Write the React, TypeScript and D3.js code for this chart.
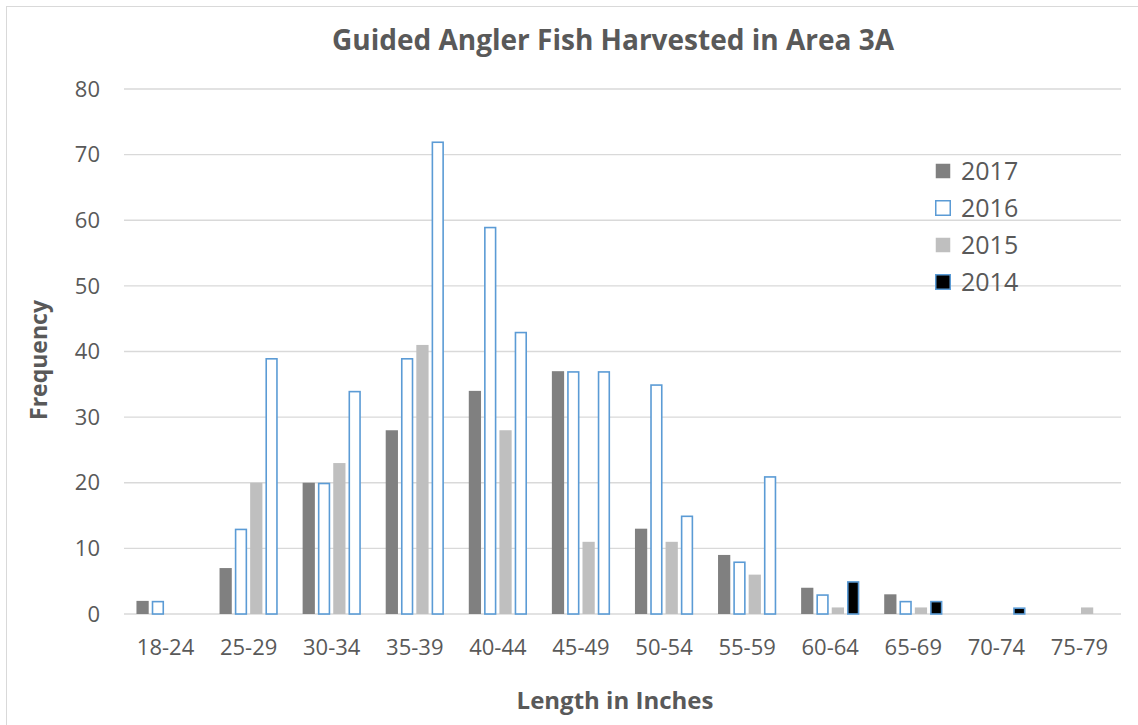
import * as d3 from "d3";

// Length classes on the x axis
const categories = [
  "18-24", "25-29", "30-34", "35-39", "40-44", "45-49",
  "50-54", "55-59", "60-64", "65-69", "70-74", "75-79",
];

// Frequency per length class, one array per year
const values2017 = [2, 7, 20, 28, 34, 37, 13, 9, 4, 3, 0, 0];
const values2016 = [2, 13, 20, 39, 59, 37, 35, 8, 3, 2, 0, 0];
const values2015 = [0, 20, 23, 41, 28, 11, 11, 6, 1, 1, 0, 1];
const values2014 = [0, 39, 34, 72, 43, 37, 15, 21, 5, 2, 1, 0];

const yTicks = [0, 10, 20, 30, 40, 50, 60, 70, 80];

type Series = {
  name: string;
  values: number[];
  fill: string;
  stroke: string;
};

const series: Series[] = [
  { name: "2017", values: values2017, fill: "#808080", stroke: "none" },
  { name: "2016", values: values2016, fill: "#ffffff", stroke: "#5b9bd5" },
  { name: "2015", values: values2015, fill: "#bfbfbf", stroke: "none" },
  { name: "2014", values: values2014, fill: "#ffffff", stroke: "#5b9bd5" },
];

// in the original, only these 2014 bars came out filled black
const blackFilled2014 = ["60-64", "65-69", "70-74"];

const width = 1138;
const height = 725;
const plot = { left: 124, right: 1121, top: 89, bottom: 614 };
const textColor = "#595959";
const gridColor = "#d9d9d9";
const font = "'Open Sans', sans-serif";

const App = () => {
  const x = d3
    .scaleBand<string>()
    .domain(categories)
    .range([plot.left, plot.right])
    .paddingInner(0.263)
    .paddingOuter(0.1315);

  const xInner = d3
    .scaleBand<string>()
    .domain(series.map((s) => s.name))
    .range([0, x.bandwidth()])
    .paddingInner(0.2)
    .paddingOuter(0.1);

  const y = d3.scaleLinear().domain([0, 80]).range([plot.bottom, plot.top]);

  const barFill = (s: Series, cat: string) =>
    s.name === "2014" && blackFilled2014.includes(cat) ? "#000000" : s.fill;

  return (
    <svg
      width={width}
      height={height}
      style={{ position: "absolute", left: 0, top: 0, background: "#fff" }}
      fontFamily={font}
    >
      <rect x={6.5} y={6.5} width={width} height={height} fill="none" stroke={gridColor} />

      <text
        x={613}
        y={50}
        textAnchor="middle"
        fontSize={28}
        fontWeight="bold"
        fill={textColor}
      >
        Guided Angler Fish Harvested in Area 3A
      </text>

      {/* gridlines and y labels */}
      {yTicks.map((t) => (
        <g key={t}>
          <line
            x1={plot.left}
            x2={plot.right}
            y1={y(t)}
            y2={y(t)}
            stroke={gridColor}
            strokeWidth={1.3}
          />
          <text
            x={100}
            y={y(t)}
            dy="0.35em"
            textAnchor="end"
            fontSize={22}
            fill={textColor}
          >
            {t}
          </text>
        </g>
      ))}

      {/* bars */}
      {categories.map((cat, i) => (
        <g key={cat} transform={`translate(${x(cat)},0)`}>
          {series.map((s) => {
            const v = s.values[i];
            if (v <= 0) return null;
            const outlined = s.stroke !== "none";
            const inset = outlined ? 0.75 : 0;
            return (
              <rect
                key={s.name}
                x={(xInner(s.name) ?? 0) + inset}
                y={y(v) + inset}
                width={xInner.bandwidth() - inset * 2}
                height={y(0) - y(v) - inset}
                fill={barFill(s, cat)}
                stroke={s.stroke}
                strokeWidth={outlined ? 1.6 : 0}
              />
            );
          })}
        </g>
      ))}

      {/* x labels */}
      {categories.map((cat) => (
        <text
          key={cat}
          x={(x(cat) ?? 0) + x.bandwidth() / 2}
          y={655}
          textAnchor="middle"
          fontSize={22}
          fill={textColor}
        >
          {cat}
        </text>
      ))}

      <text
        transform="translate(47,360) rotate(-90)"
        textAnchor="middle"
        fontSize={23}
        fontWeight="bold"
        fill={textColor}
      >
        Frequency
      </text>

      <text
        x={615}
        y={709}
        textAnchor="middle"
        fontSize={24}
        fontWeight="bold"
        fill={textColor}
      >
        Length in Inches
      </text>

      {/* legend */}
      {series.map((s, i) => {
        const cy = 171 + i * 37;
        const legendFill = s.name === "2014" ? "#000000" : s.fill;
        return (
          <g key={s.name}>
            <rect
              x={935.75}
              y={cy - 7.25}
              width={14.5}
              height={14.5}
              fill={legendFill}
              stroke={s.stroke}
              strokeWidth={s.stroke === "none" ? 0 : 1.5}
            />
            <text x={961} y={cy} dy="0.36em" fontSize={25} fill={textColor}>
              {s.name}
            </text>
          </g>
        );
      })}
    </svg>
  );
};

export default App;
